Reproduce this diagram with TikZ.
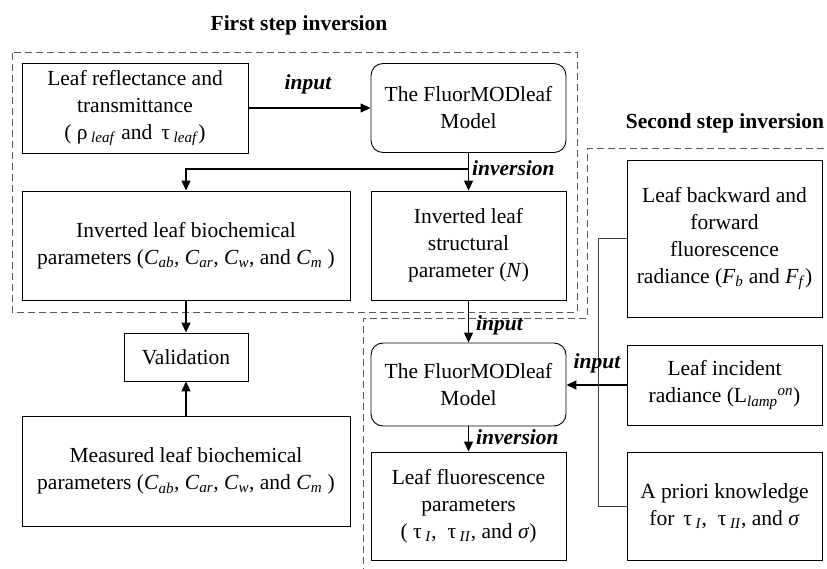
\documentclass[tikz,border=0pt]{standalone}
\usepackage{fontspec}
\setmainfont{Liberation Serif}
\usetikzlibrary{arrows.meta}
\newcommand{\sub}[1]{\textsubscript{\textit{#1}}}
\begin{document}
\begin{tikzpicture}[x=1pt,y=-1pt,
  font=\fontsize{21.5}{27}\selectfont,
  box/.style={draw=black,line width=0.9pt,align=center,inner sep=0pt},
  modelbox/.style={box,rounded corners=12pt},
  arr/.style={line width=1.3pt,-{Triangle[length=10pt,width=9pt]}},
  lbl/.style={font=\fontsize{21.5}{27}\selectfont\bfseries\itshape,inner sep=0pt},
  ttl/.style={font=\fontsize{21.5}{27}\selectfont\bfseries,inner sep=0pt},
  region/.style={draw=black!65,line width=1pt,dash pattern=on 7pt off 4pt}]
\useasboundingbox (0,0) rectangle (827,569);

% group outlines
\draw[region] (12,53) rectangle (577,312);
\draw[region] (363,575) -- (363,318) -- (587,318) -- (587,149) -- (835,149);

% titles
\node[ttl] (t1) at (299,25) {First step inversion};
\node[ttl] (t2) at (725,123) {Second step inversion};

% first step
\node[box,minimum width=226pt,minimum height=90pt] (refl) at (135,108)
  {Leaf reflectance and\\transmittance\\( ρ\,\sub{leaf} and \,τ\,\sub{leaf})};
\node[modelbox,minimum width=195pt,minimum height=89pt] (model1) at (468.5,108)
  {The FluorMODleaf\\Model};
\node[box,minimum width=328pt,minimum height=109pt] (bio) at (186,245.5)
  {Inverted leaf biochemical\\parameters (\textit{C}\sub{ab}, \textit{C}\sub{ar}, \textit{C}\sub{w}, and \textit{C}\sub{m} )};
\node[box,minimum width=195pt,minimum height=109pt] (struct) at (468.5,245.5)
  {Inverted leaf\\structural\\parameter (\textit{N})};
\node[box,minimum width=124pt,minimum height=48pt] (valid) at (186,357) {Validation};
\node[box,minimum width=328pt,minimum height=110pt] (meas) at (186,471)
  {Measured leaf biochemical\\parameters (\textit{C}\sub{ab}, \textit{C}\sub{ar}, \textit{C}\sub{w}, and \textit{C}\sub{m} )};

% second step
\node[box,minimum width=195pt,minimum height=157pt] (back) at (724.5,238.5)
  {Leaf backward and\\forward\\fluorescence\\radiance (\textit{F}\sub{b} and \textit{F}\sub{f})};
\node[modelbox,minimum width=195pt,minimum height=83pt] (model2) at (468.5,384.5)
  {The FluorMODleaf\\Model};
\node[box,minimum width=195pt,minimum height=80pt] (incid) at (724.5,385)
  {Leaf incident\\radiance (L\sub{lamp}\textsuperscript{\textit{on}})};
\node[box,minimum width=195pt,minimum height=108pt] (fluor) at (468.5,506)
  {Leaf fluorescence\\parameters\\( τ\,\sub{I}, \ τ\,\sub{II}, and \textit{σ})};
\node[box,minimum width=195pt,minimum height=108pt] (apri) at (724.5,506)
  {A priori knowledge\\for \,τ\,\sub{I}, \ τ\,\sub{II}, and \textit{σ}};

% connectors
\coordinate (j1) at (468.5,169);
\draw[arr] (refl.east) -- (refl.east -| model1.west);
\draw[arr] (model1.south) -- (struct.north);
\draw[arr] (j1) -| (bio.north);
\draw[arr] (bio.south) -- (valid.north);
\draw[arr] (meas.north) -- (valid.south);
\draw[arr] (struct.south) -- (model2.north);
\draw[arr] (incid.west) -- (incid.west -| model2.east);
\draw[arr] (model2.south) -- (fluor.north);
\draw[line width=0.8pt,black!75] (back.west) -- ++(-28,0) |- (apri.west);

% connector labels
\node[lbl] (l1) at (308,84) {input};
\node[lbl,anchor=west] (l2) at (472,168) {inversion};
\node[lbl,anchor=west] (l3) at (476,325) {input};
\node[lbl] (l4) at (597,363) {input};
\node[lbl,anchor=west] (l5) at (476,437) {inversion};
\end{tikzpicture}
\end{document}
